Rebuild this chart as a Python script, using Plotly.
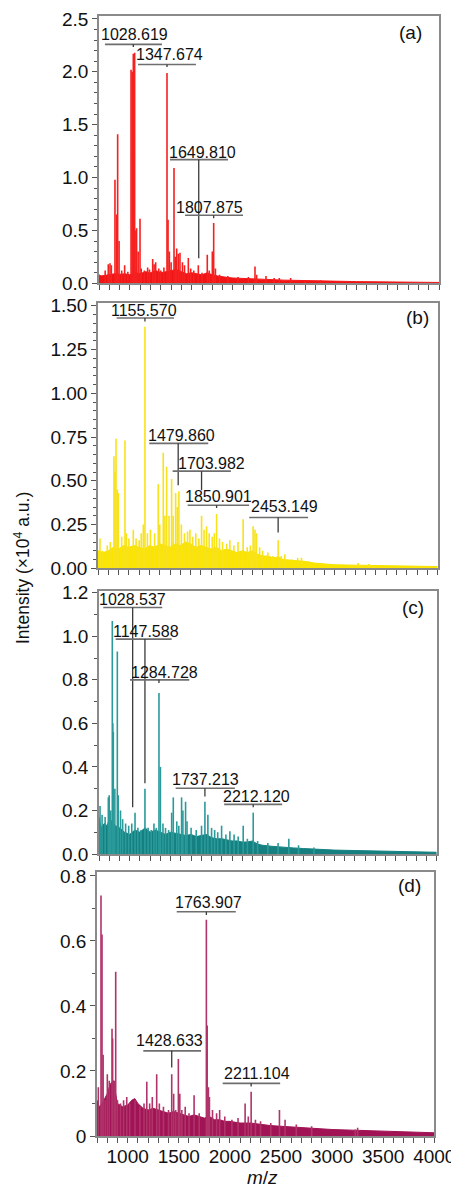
import plotly.graph_objects as go

# ---------------- data ----------------
MZ_RANGE = [700, 4000]

# Panel (a)
a_base_mz = [700, 720, 760, 800, 850, 900, 950, 1000, 1050, 1100, 1150, 1200, 1250, 1300, 1350, 1400,
             1450, 1500, 1550, 1600, 1650, 1700, 1750, 1800, 1850, 1900, 1950, 2000, 2100, 2200, 2300,
             2400, 2500, 2600, 2700, 2800, 2900, 3000, 3200, 3400, 3600, 3800, 4000]
a_base_int = [0.08, 0.07, 0.075, 0.08, 0.09, 0.085, 0.09, 0.08, 0.1, 0.09, 0.11, 0.1, 0.12, 0.1, 0.11,
              0.12, 0.13, 0.11, 0.09, 0.1, 0.09, 0.08, 0.1, 0.08, 0.07, 0.06, 0.055, 0.05, 0.045, 0.045,
              0.04, 0.035, 0.03, 0.028, 0.025, 0.022, 0.02, 0.018, 0.016, 0.014, 0.012, 0.01, 0.008]
a_peak_mz = [760, 790, 807, 820, 855, 870, 881, 895, 920, 949, 980, 1011, 1022, 1033, 1040, 1046, 1058,
             1065, 1080, 1098, 1110, 1140, 1172, 1190, 1221, 1235, 1250, 1280, 1300, 1330, 1360, 1370,
             1383, 1400, 1428, 1440, 1454, 1470, 1486, 1510, 1530, 1567, 1590, 1620, 1664, 1700, 1751,
             1770, 1800, 1813, 1830, 1870, 1950, 2050, 2150, 2214, 2230, 2321, 2400, 2450, 2560, 2700, 2850]
a_peak_int = [0.12, 0.18, 0.19, 0.17, 0.98, 0.65, 1.41, 0.4, 0.12, 0.17, 0.11, 2.02, 2.0, 2.17, 1.2, 2.18,
              0.5, 0.52, 0.3, 0.61, 0.14, 0.12, 0.15, 0.13, 0.23, 0.18, 0.2, 0.14, 0.12, 0.15, 1.99, 0.6,
              0.3, 0.2, 1.09, 0.25, 0.33, 0.28, 0.29, 0.2, 0.17, 0.24, 0.14, 0.12, 0.17, 0.1, 0.27,
              0.12, 0.3, 0.57, 0.14, 0.08, 0.07, 0.06, 0.06, 0.16, 0.08, 0.07, 0.05, 0.05, 0.05, 0.03, 0.03]
a_labels = ["1028.619", "1347.674", "1649.810", "1807.875"]
a_label_mz = [1033, 1360, 1668, 1813]

# Panel (b)
b_base_mz = [700, 750, 800, 850, 900, 950, 1000, 1050, 1100, 1150, 1200, 1250, 1300, 1350, 1400, 1450,
             1500, 1550, 1600, 1650, 1700, 1750, 1800, 1850, 1900, 1950, 2000, 2050, 2100, 2150, 2200,
             2250, 2300, 2350, 2400, 2450, 2500, 2600, 2700, 2800, 2900, 3000, 3200, 3400, 3600, 3800, 4000]
b_base_int = [0.1, 0.09, 0.1, 0.12, 0.11, 0.13, 0.12, 0.13, 0.12, 0.11, 0.13, 0.12, 0.14, 0.13, 0.12,
              0.14, 0.13, 0.15, 0.14, 0.12, 0.13, 0.12, 0.11, 0.12, 0.1, 0.11, 0.1, 0.09, 0.1, 0.09, 0.1,
              0.08, 0.07, 0.07, 0.06, 0.065, 0.05, 0.045, 0.04, 0.03, 0.025, 0.02, 0.018, 0.015, 0.013,
              0.011, 0.01]
b_peak_mz = [719, 745, 790, 820, 855, 865, 875, 888, 897, 930, 962, 975, 1000, 1043, 1070, 1100, 1120,
             1140, 1156, 1180, 1210, 1250, 1285, 1300, 1334, 1350, 1367, 1390, 1415, 1430, 1454, 1470,
             1486, 1510, 1540, 1570, 1593, 1620, 1650, 1680, 1706, 1730, 1755, 1780, 1810, 1830, 1852,
             1880, 1910, 1950, 1981, 2020, 2060, 2110, 2150, 2180, 2207, 2225, 2240, 2270, 2300, 2350,
             2400, 2450, 2480, 2515, 2580, 2640, 2677, 2750, 3227, 3330]
b_peak_int = [0.17, 0.1, 0.13, 0.15, 0.64, 0.55, 0.74, 0.45, 0.43, 0.18, 0.73, 0.2, 0.17, 0.22, 0.17,
              0.16, 0.2, 0.25, 1.38, 0.2, 0.22, 0.2, 0.48, 0.25, 0.66, 0.3, 0.58, 0.3, 0.51, 0.3, 0.43,
              0.35, 0.44, 0.25, 0.2, 0.21, 0.22, 0.18, 0.2, 0.17, 0.3, 0.22, 0.24, 0.2, 0.18, 0.2, 0.31,
              0.17, 0.15, 0.14, 0.16, 0.13, 0.15, 0.28, 0.12, 0.13, 0.24, 0.22, 0.2, 0.12, 0.1, 0.09,
              0.07, 0.16, 0.07, 0.08, 0.05, 0.06, 0.06, 0.04, 0.03, 0.025]
b_labels = ["1155.570", "1479.860", "1703.982", "1850.901", "2453.149"]
b_label_mz = [1156, 1479, 1706, 1852, 2450]

# Panel (c)
c_base_mz = [700, 720, 750, 780, 800, 830, 860, 900, 950, 1000, 1050, 1100, 1150, 1200, 1250, 1300,
             1350, 1400, 1450, 1500, 1550, 1600, 1650, 1700, 1750, 1800, 1850, 1900, 1950, 2000, 2050,
             2100, 2150, 2200, 2250, 2300, 2400, 2500, 2600, 2700, 2800, 2900, 3000, 3200, 3400, 3600,
             3800, 4000]
c_base_int = [0.17, 0.12, 0.14, 0.13, 0.16, 0.15, 0.13, 0.12, 0.1, 0.09, 0.11, 0.1, 0.12, 0.1, 0.11,
              0.1, 0.09, 0.1, 0.095, 0.09, 0.085, 0.09, 0.08, 0.085, 0.09, 0.075, 0.07, 0.07, 0.065,
              0.06, 0.06, 0.055, 0.055, 0.06, 0.045, 0.04, 0.035, 0.03, 0.028, 0.025, 0.022, 0.02,
              0.018, 0.016, 0.014, 0.012, 0.01, 0.008]
c_peak_mz = [710, 730, 760, 791, 800, 815, 830, 835, 840, 855, 879, 888, 910, 931, 960, 990, 1020, 1052,
             1080, 1110, 1149, 1180, 1210, 1237, 1260, 1286, 1300, 1325, 1350, 1380, 1410, 1426, 1460,
             1480, 1507, 1520, 1546, 1560, 1600, 1650, 1702, 1735, 1764, 1800, 1830, 1860, 1898, 1940,
             1979, 2020, 2060, 2109, 2150, 2207, 2250, 2350, 2450, 2555, 2650, 2800]
c_peak_int = [0.22, 0.18, 0.17, 0.26, 0.27, 0.2, 1.07, 0.6, 0.56, 0.3, 0.93, 0.27, 0.2, 0.16, 0.14,
              0.13, 0.14, 0.19, 0.12, 0.11, 0.3, 0.12, 0.11, 0.14, 0.12, 0.74, 0.4, 0.14, 0.12, 0.11,
              0.19, 0.26, 0.15, 0.13, 0.26, 0.2, 0.24, 0.15, 0.12, 0.11, 0.13, 0.24, 0.18, 0.12, 0.11,
              0.1, 0.13, 0.09, 0.105, 0.09, 0.08, 0.13, 0.07, 0.19, 0.06, 0.05, 0.05, 0.07, 0.04, 0.03]
c_labels = ["1028.537", "1147.588", "1284.728", "1737.213", "2212.120"]
c_label_mz = [1029, 1149, 1286, 1735, 2207]

# Panel (d)
d_base_mz = [700, 720, 750, 780, 800, 830, 860, 900, 950, 1000, 1040, 1070, 1100, 1150, 1200, 1250,
             1300, 1350, 1400, 1450, 1500, 1550, 1600, 1650, 1700, 1750, 1800, 1850, 1900, 1950, 2000,
             2100, 2200, 2300, 2400, 2500, 2600, 2700, 2800, 2900, 3000, 3200, 3400, 3600, 3800, 4000]
d_base_int = [0.11, 0.09, 0.1, 0.12, 0.13, 0.16, 0.17, 0.1, 0.09, 0.095, 0.11, 0.115, 0.1, 0.085,
              0.08, 0.085, 0.08, 0.075, 0.07, 0.075, 0.07, 0.065, 0.06, 0.065, 0.06, 0.055, 0.06,
              0.05, 0.05, 0.045, 0.045, 0.04, 0.04, 0.035, 0.032, 0.03, 0.028, 0.025, 0.024, 0.022,
              0.02, 0.018, 0.016, 0.014, 0.012, 0.01]
d_peak_mz = [713, 739, 749, 760, 780, 801, 820, 847, 853, 870, 883, 900, 930, 960, 991, 1020, 1072,
             1120, 1160, 1187, 1215, 1241, 1284, 1310, 1350, 1400, 1431, 1450, 1470, 1496, 1510, 1530,
             1563, 1600, 1650, 1700, 1770, 1778, 1790, 1800, 1830, 1870, 1900, 1950, 2020, 2080, 2149,
             2180, 2208, 2250, 2300, 2400, 2485, 2540, 2650, 2800, 3226, 3250]
d_peak_int = [0.15, 0.74, 0.62, 0.25, 0.11, 0.19, 0.17, 0.33, 0.3, 0.17, 0.505, 0.11, 0.1, 0.11, 0.12,
              0.1, 0.11, 0.09, 0.1, 0.167, 0.1, 0.12, 0.19, 0.1, 0.09, 0.08, 0.19, 0.13, 0.08, 0.237,
              0.13, 0.08, 0.09, 0.07, 0.125, 0.07, 0.665, 0.34, 0.15, 0.12, 0.08, 0.07, 0.08, 0.06, 0.05,
              0.055, 0.1, 0.06, 0.136, 0.05, 0.045, 0.04, 0.08, 0.05, 0.035, 0.03, 0.02, 0.025]
d_labels = ["1763.907", "1428.633", "2211.104"]
d_label_mz = [1770, 1431, 2208]

x_tick_vals = [1000, 1500, 2000, 2500, 3000, 3500, 4000]

# ---------------- layout / style (kept apart from the data) ----------------
PAGE_W, PAGE_H = 459, 1188
OFF = 8                      # default page (body) margin of the written html
W, H = PAGE_W - OFF, PAGE_H - OFF

# label geometry per panel: (text_x, text_y, bar_x0, bar_x1, bar_y, line_end_y)
a_geom = [(1045, 2.35, 758, 1311, 2.26, 2.235), (1384, 2.16, 1079, 1641, 2.07, 2.045),
          (1705, 1.24, 1389, 1952, 1.17, 0.237), (1777, 0.72, 1535, 2098, 0.644, 0.615)]
b_geom = [(1143, 1.471, 881, 1438, 1.43, 1.41), (1512, 0.761, 1198, 1771, 0.714, 0.475),
          (1803, 0.60, 1425, 1991, 0.555, 0.446), (1868, 0.408, 1571, 2168, 0.36, 0.345),
          (2510, 0.351, 2169, 2741, 0.29, 0.204)]
c_geom = [(1030, 1.168, 742, 1318, 1.132, 0.215), (1162, 1.022, 863, 1410, 0.987, 0.325),
          (1336, 0.835, 1003, 1582, 0.80, 0.785), (1738, 0.343, 1449, 2028, 0.302, 0.264),
          (2240, 0.264, 1923, 2490, 0.228, 0.215)]
d_geom = [(1789, 0.718, 1480, 2058, 0.69, 0.68), (1410, 0.295, 1153, 1718, 0.262, 0.211),
          (2262, 0.193, 1930, 2492, 0.162, 0.152)]

panels = [
    dict(tag="(a)", base=(a_base_mz, a_base_int), peaks=(a_peak_mz, a_peak_int),
         labels=a_labels, label_mz=a_label_mz, geom=a_geom,
         fill="rgba(240,20,20,1)", line="#f21a1a", peakcol="#f52020",
         yr=[0, 2.528], dtick=0.5, minor=0.1, fmt=".1f",
         px=(99, 439), py=(16, 283.3), tagpos=(3719, 2.37)),
    dict(tag="(b)", base=(b_base_mz, b_base_int), peaks=(b_peak_mz, b_peak_int),
         labels=b_labels, label_mz=b_label_mz, geom=b_geom,
         fill="rgba(250,228,0,1)", line="#f7e200", peakcol="#f8e21a",
         yr=[0, 1.514], dtick=0.25, minor=0.05, fmt=".2f",
         px=(98, 437.7), py=(303.3, 568.3), tagpos=(3806, 1.43)),
    dict(tag="(c)", base=(c_base_mz, c_base_int), peaks=(c_peak_mz, c_peak_int),
         labels=c_labels, label_mz=c_label_mz, geom=c_geom,
         fill="rgba(22,128,128,1)", line="#178080", peakcol="#2a9a9a",
         yr=[0, 1.208], dtick=0.2, minor=0.1, fmt=".1f",
         px=(99, 436.7), py=(591, 854), tagpos=(3770, 1.13)),
    dict(tag="(d)", base=(d_base_mz, d_base_int), peaks=(d_peak_mz, d_peak_int),
         labels=d_labels, label_mz=d_label_mz, geom=d_geom,
         fill="rgba(160,20,85,1)", line="#a01455", peakcol="#b0336a",
         yr=[0, 0.813], dtick=0.2, minor=0.1, fmt="",
         px=(97, 434.3), py=(871.7, 1136), tagpos=(3761, 0.772)),
]

FONT = "Liberation Sans, Arial, sans-serif"
TICK_SIZE = 19
fig = go.Figure()
shapes, annotations = [], []

for i, p in enumerate(panels):
    n = "" if i == 0 else str(i + 1)
    xa, ya = "x" + n, "y" + n
    bmz, bint = p["base"]
    fig.add_trace(go.Scatter(x=bmz, y=bint, mode="lines", fill="tozeroy",
                             fillcolor=p["fill"], line=dict(color=p["line"], width=1),
                             xaxis=xa, yaxis=ya, showlegend=False, hoverinfo="skip"))
    sx, sy = [], []
    for m, v in zip(*p["peaks"]):
        sx += [m, m, None]
        sy += [0, v, None]
    fig.add_trace(go.Scatter(x=sx, y=sy, mode="lines", line=dict(color=p["peakcol"], width=1.6),
                             xaxis=xa, yaxis=ya, showlegend=False, hoverinfo="skip"))

    for lab, lmz, g in zip(p["labels"], p["label_mz"], p["geom"]):
        tx, ty, bx0, bx1, by, ly = g
        shapes.append(dict(type="line", xref=xa, yref=ya, x0=bx0, x1=bx1, y0=by, y1=by,
                           line=dict(color="#6e6e6e", width=1.6)))
        shapes.append(dict(type="line", xref=xa, yref=ya, x0=lmz, x1=lmz, y0=by, y1=ly,
                           line=dict(color="#3a3a3a", width=1.3)))
        annotations.append(dict(x=tx, y=ty, xref=xa, yref=ya, text=lab, showarrow=False,
                                xanchor="center", yanchor="middle",
                                font=dict(family=FONT, size=16, color="#111")))
    annotations.append(dict(x=p["tagpos"][0], y=p["tagpos"][1], xref=xa, yref=ya, text=p["tag"],
                            showarrow=False, xanchor="center", yanchor="middle",
                            font=dict(family=FONT, size=19, color="#111")))

    xdom = [(p["px"][0] - OFF) / W, (p["px"][1] - OFF) / W]
    ydom = [1 - (p["py"][1] - OFF) / H, 1 - (p["py"][0] - OFF) / H]
    xkey = "xaxis" + n
    ykey = "yaxis" + n
    fig.layout[xkey] = dict(domain=xdom, range=MZ_RANGE, anchor=ya,
                            tickvals=x_tick_vals, showticklabels=(i == 3),
                            ticks="outside", ticklen=5, tickcolor="#555", tickwidth=1,
                            ticklabelstandoff=-3,
                            minor=dict(dtick=100, tick0=0, ticks="outside", ticklen=5,
                                       tickcolor="#555", tickwidth=1),
                            showline=True, mirror=True, linecolor="#8a8a8a", linewidth=1.5,
                            showgrid=False, zeroline=False, automargin=False,
                            tickfont=dict(family=FONT, size=TICK_SIZE, color="#111"))
    fig.layout[ykey] = dict(domain=ydom, range=p["yr"], anchor=xa,
                            dtick=p["dtick"], tick0=0, tickformat=p["fmt"],
                            ticks="outside", ticklen=5, tickcolor="#555", tickwidth=1,
                            minor=dict(dtick=p["minor"], tick0=0, ticks="outside", ticklen=3,
                                       tickcolor="#555", tickwidth=1),
                            showline=True, mirror=True, linecolor="#8a8a8a", linewidth=1.5,
                            showgrid=False, zeroline=False, automargin=False,
                            tickfont=dict(family=FONT, size=TICK_SIZE, color="#111"))

annotations.append(dict(x=(22 - OFF) / W, y=1 - (568 - OFF) / H, xref="paper", yref="paper",
                        text="Intensity (×10<sup>4</sup> a.u.)", textangle=-90, showarrow=False,
                        xanchor="center", yanchor="middle",
                        font=dict(family=FONT, size=17.5, color="#111")))
annotations.append(dict(x=(262 - OFF) / W, y=1 - (1177 - OFF) / H, xref="paper", yref="paper",
                        text="<i>m</i>/<i>z</i>", showarrow=False,
                        xanchor="center", yanchor="middle",
                        font=dict(family=FONT, size=19, color="#111")))

fig.update_layout(width=W, height=H, autosize=False,
                  margin=dict(l=0, r=0, t=0, b=0),
                  paper_bgcolor="white", plot_bgcolor="white",
                  shapes=shapes, annotations=annotations, showlegend=False)

fig.write_html("out.html")
